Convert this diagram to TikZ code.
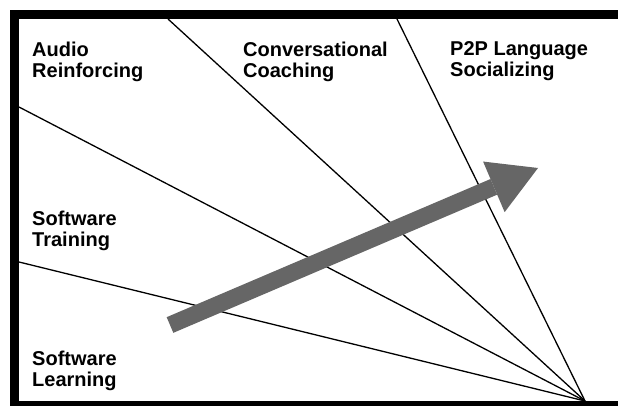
\documentclass[tikz,border=0pt]{standalone}
\usepackage{fontspec}
\setmainfont{Liberation Sans}
\usetikzlibrary{arrows.meta}
\definecolor{arrowgray}{HTML}{666666}
\begin{document}
\begin{tikzpicture}[x=1pt,y=-1pt,
  lbl/.style={font=\bfseries\fontsize{20}{21}\selectfont, align=left, inner sep=0pt, anchor=base west},
  ray/.style={line width=1.3pt, black},
  bigarrow/.style={draw=arrowgray, line width=17pt, -{Triangle[length=48pt,width=55pt,line width=0pt]}, fill=arrowgray},
  framebar/.style={fill=black}]
\useasboundingbox (0,0) rectangle (618,406);
% frame
\fill[framebar] (10,10) rectangle (618,19);
\fill[framebar] (10,10) rectangle (19,406);
\fill[framebar] (10,401) rectangle (618,406);
% rays
\coordinate (apex) at (585,401);
\coordinate (r1) at (168,19);
\coordinate (r2) at (397,19);
\coordinate (r3) at (19,107);
\coordinate (r4) at (19,262);
\draw[ray] (r1) -- (apex);
\draw[ray] (r2) -- (apex);
\draw[ray] (r3) -- (apex);
\draw[ray] (r4) -- (apex);
% labels (base anchor = baseline of last line)
\node[lbl] (audio) at (32,78) {Audio\\Reinforcing};
\node[lbl] (conv) at (243,78) {Conversational\\Coaching};
\node[lbl] (p2p) at (450,77) {P2P Language\\Socializing};
\node[lbl] (swt) at (32,246) {Software\\Training};
\node[lbl] (swl) at (32,386) {Software\\Learning};
% arrow
\coordinate (atail) at (170,325);
\coordinate (atip) at (538,168);
\draw[bigarrow] (atail) -- (atip);
\end{tikzpicture}
\end{document}
